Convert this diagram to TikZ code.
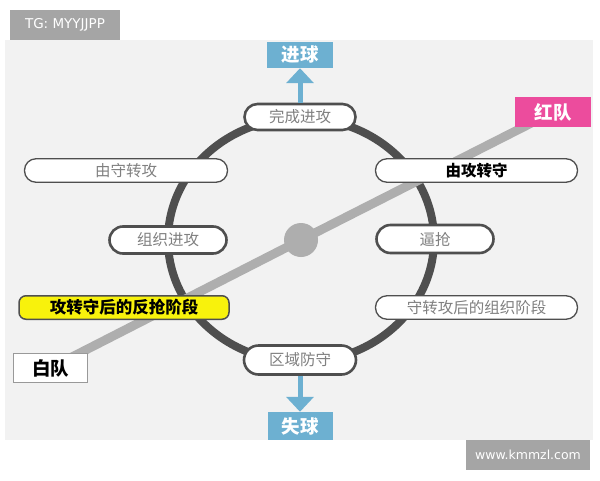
\documentclass[tikz,border=0pt]{standalone}
\usepackage{fontspec}
\setmainfont{DejaVu Sans}
\newfontfamily\cjk{Noto Sans CJK SC}
\usetikzlibrary{arrows.meta,backgrounds}
\definecolor{panel}{HTML}{F2F2F2}
\definecolor{ringc}{HTML}{4F4F4F}
\definecolor{bandc}{HTML}{AEAEAE}
\definecolor{txtgray}{HTML}{808080}
\definecolor{blueb}{HTML}{6DB0D1}
\definecolor{pinkb}{HTML}{EC4C9D}
\definecolor{yelb}{HTML}{F8F20C}
\definecolor{wmark}{HTML}{A5A5A5}
\begin{document}
\begin{tikzpicture}[x=1pt,y=-1pt,
  pill/.style={draw=ringc, fill=white, line width=2.6pt, rounded corners=13pt,
    minimum height=26pt, inner sep=0pt, text=txtgray, font=\cjk\fontsize{15.5}{16}\selectfont},
  thinpill/.style={draw=ringc, fill=white, line width=1.3pt, rounded corners=11.5pt,
    minimum height=23.5pt, inner sep=0pt, text=txtgray, font=\cjk\fontsize{15.5}{16}\selectfont},
  tagbox/.style={inner sep=0pt, font=\cjk\bfseries\fontsize{18.5}{19}\selectfont},
  wmbox/.style={fill=wmark, text=white, inner sep=0pt},
  blockarrow/.style={draw=blueb, line width=5pt, -{Triangle[width=27pt,length=15pt]}}
]
\useasboundingbox (0,0) rectangle (600,480);
% nodes
\node[pill, minimum width=111pt] (done) at (300,117) {完成进攻};
\node[thinpill, minimum width=203pt] (ds) at (126,170.5) {由守转攻};
\node[thinpill, minimum width=202pt, text=black, font=\cjk\bfseries\fontsize{15.5}{16}\selectfont] (ad) at (476.5,170.5) {由攻转守};
\node[pill, minimum width=117pt, minimum height=27pt, rounded corners=13.5pt] (org) at (168,240) {组织进攻};
\node[pill, minimum width=117pt, minimum height=28pt, rounded corners=14pt] (press) at (435,239) {逼抢};
\node[draw=ringc, fill=yelb, line width=1.5pt, rounded corners=7pt, minimum width=210pt,
  minimum height=23.5pt, inner sep=0pt, font=\cjk\bfseries\fontsize{16.5}{17}\selectfont] (counter) at (124,307.5) {攻转守后的反抢阶段};
\node[thinpill, minimum width=202pt] (orgph) at (476.5,307.5) {守转攻后的组织阶段};
\node[pill, minimum width=112pt, minimum height=29pt, rounded corners=14.5pt] (zone) at (300,360) {区域防守};
\node[tagbox, draw=gray!80, fill=white, line width=1.2pt, minimum width=74pt, minimum height=29pt] (whitet) at (50.5,368) {白队};
\node[tagbox, fill=pinkb, text=white, minimum width=76pt, minimum height=30pt] (redt) at (553,112) {红队};
\node[tagbox, fill=blueb, text=white, minimum width=66pt, minimum height=26pt] (goal) at (300,55) {进球};
\node[tagbox, fill=blueb, text=white, minimum width=65pt, minimum height=28pt] (lose) at (300,426) {失球};
\node[circle, fill=bandc, minimum size=34pt, inner sep=0pt] (hub) at (301,240) {};
% watermarks
\node[wmbox, minimum width=110pt, minimum height=30pt, font=\fontsize{13.5}{14}\selectfont] (tg) at (65,25) {TG: MYYJJPP};
\node[wmbox, minimum width=124pt, minimum height=30pt, font=\fontsize{12.5}{13}\selectfont] (site) at (528,455) {www.kmmzl.com};
% arrows
\draw[blockarrow] (done.north) -- (goal.south);
\draw[blockarrow] (zone.south) -- (lose.north);
% background
\begin{scope}[on background layer]
  \fill[white] (0,0) rectangle (600,480);
  \fill[panel] (5,40) rectangle (593,440);
  \draw[ringc, line width=8pt] (301,240) ellipse [x radius=133, y radius=122];
  \draw[bandc, line width=9pt] (whitet.center) -- (hub.center) -- (redt.center);
\end{scope}
\end{tikzpicture}
\end{document}
